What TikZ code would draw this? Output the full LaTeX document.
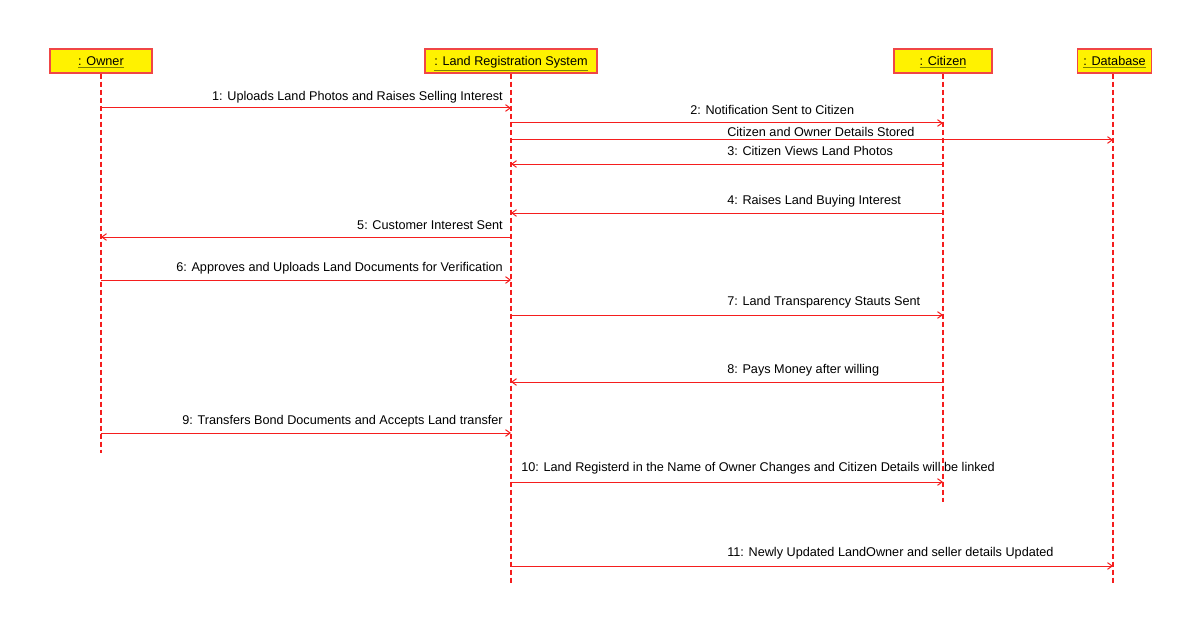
\documentclass[tikz,border=0pt]{standalone}
\usepackage{fontspec}
\setmainfont{Liberation Sans}
\usetikzlibrary{arrows.meta}
\definecolor{lifered}{RGB}{245,30,30}
\definecolor{boxred}{RGB}{240,70,70}
\definecolor{ulolive}{RGB}{130,130,0}
\newcommand{\headtext}[1]{{\color{ulolive}\underline{\textcolor{black}{#1}}}}
\begin{document}
\begin{tikzpicture}[
    x=0.75pt, y=-0.75pt,
    >={Straight Barb[length=3.5pt,width=5pt]},
    every node/.style={font=\fontsize{9.5}{11}\selectfont, inner sep=0pt},
    headbox/.style={
        draw=boxred,
        fill=yellow,
        line width=0.9pt,
        text depth=0pt,
        minimum height=18pt
    },
    lifeline/.style={color=lifered, dash pattern=on 3.75pt off 2.25pt, line width=0.85pt},
    msg/.style={->, color=lifered, line width=0.75pt}
]
    \useasboundingbox (0,0) rectangle (1186,635);

    % Lifeline heads
    \node[headbox, minimum width=76.5pt] (owner) at (101,61) {\headtext{: Owner}};
    \node[headbox, minimum width=129pt] (lrs) at (511,61) {\headtext{: Land Registration System}};
    \node[headbox, minimum width=73.5pt] (citizen) at (943,61) {\headtext{: Citizen}};
    \node[headbox, minimum width=55pt] (db) at (1114.5,61) {\headtext{: Database}};

    % Lifeline ends
    \coordinate (ownerend) at (101,453);
    \coordinate (lrsend) at (511,585);
    \coordinate (citizenend) at (943,502);
    \coordinate (dbend) at (1113,585);

    \draw[lifeline] (owner.south) -- (ownerend);
    \draw[lifeline] (lrs.south) -- (lrsend);
    \draw[lifeline] (citizen.south) -- (citizenend);
    \draw[lifeline] (dbend |- db.south) -- (dbend);

    % Messages
    \draw[msg] (owner |- 0,108) -- (lrs |- 0,108);
    \node[anchor=east] (m1) at (503,97) {1: Uploads Land Photos and Raises Selling Interest};

    \draw[msg] (lrs |- 0,123) -- (citizen |- 0,123);
    \node[anchor=west] (m2) at (690,110) {2: Notification Sent to Citizen};

    \draw[msg] (lrs |- 0,140) -- (dbend |- 0,140);
    \node[anchor=west] (m2b) at (727,132) {Citizen and Owner Details Stored};

    \draw[msg] (citizen |- 0,164) -- (lrs |- 0,164);
    \node[anchor=west] (m3) at (727,151) {3: Citizen Views Land Photos};

    \draw[msg] (citizen |- 0,213) -- (lrs |- 0,213);
    \node[anchor=west] (m4) at (727,201) {4: Raises Land Buying Interest};

    \draw[msg] (lrs |- 0,237) -- (owner |- 0,237);
    \node[anchor=east] (m5) at (503,225) {5: Customer Interest Sent};

    \draw[msg] (owner |- 0,280) -- (lrs |- 0,280);
    \node[anchor=east] (m6) at (503,268) {6: Approves and Uploads Land Documents for Verification};

    \draw[msg] (lrs |- 0,315) -- (citizen |- 0,315);
    \node[anchor=west] (m7) at (727,302) {7: Land Transparency Stauts Sent};

    \draw[msg] (citizen |- 0,382) -- (lrs |- 0,382);
    \node[anchor=west] (m8) at (727,370) {8: Pays Money after willing};

    \draw[msg] (owner |- 0,433) -- (lrs |- 0,433);
    \node[anchor=east] (m9) at (503,421) {9: Transfers Bond Documents and Accepts Land transfer};

    \draw[msg] (lrs |- 0,482) -- (citizen |- 0,482);
    \node[anchor=west] (m10) at (521,468) {10: Land Registerd in the Name of Owner Changes and Citizen Details will be linked};

    \draw[msg] (lrs |- 0,566) -- (dbend |- 0,566);
    \node[anchor=west] (m11) at (727,553) {11: Newly Updated LandOwner and seller details Updated};

\end{tikzpicture}
\end{document}
